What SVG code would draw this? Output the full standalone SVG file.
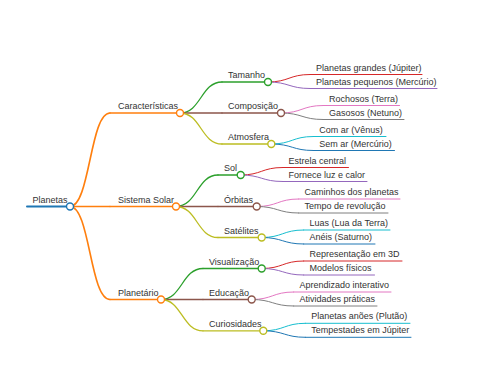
<svg xmlns="http://www.w3.org/2000/svg" width="480" height="384" viewBox="0 0 480 384">
<style>
text{font-family:"Liberation Sans",Arial,sans-serif;font-size:9px;fill:#333}
.l{fill:none;stroke-linecap:round}
.c{fill:#fff;stroke-width:1.4}
.d0{stroke-width:2}
.d1{stroke-width:1.6}
.d2{stroke-width:1.3}
.d3{stroke-width:1}
</style>
<rect width="480" height="384" fill="#fff"/>
<g id="connectors" class="l">
<path class="d1" stroke="#ff7f0e" d="M70,206.5 C90,206.5 90,113 110,113"/>
<path class="d1" stroke="#ff7f0e" d="M70,206.5 L110,206.5"/>
<path class="d1" stroke="#ff7f0e" d="M70,206.5 C90,206.5 90,299.5 110,299.5"/>
<path class="d2" stroke="#2ca02c" d="M180,113 C201,113 201,82 222,82"/>
<path class="d2" stroke="#8c564b" d="M180,113 L222,113"/>
<path class="d2" stroke="#bcbd22" d="M180,113 C201,113 201,144 222,144"/>
<path class="d2" stroke="#2ca02c" d="M176,206.5 C197,206.5 197,175 218,175"/>
<path class="d2" stroke="#8c564b" d="M176,206.5 L218,206.5"/>
<path class="d2" stroke="#bcbd22" d="M176,206.5 C197,206.5 197,237.5 218,237.5"/>
<path class="d2" stroke="#2ca02c" d="M161,299.5 C182,299.5 182,268.5 203,268.5"/>
<path class="d2" stroke="#8c564b" d="M161,299.5 L203,299.5"/>
<path class="d2" stroke="#bcbd22" d="M161,299.5 C182,299.5 182,330.8 203,330.8"/>
<path class="d3" stroke="#d62728" d="M268,82 C289,82 289,74.5 310,74.5"/>
<path class="d3" stroke="#9467bd" d="M268,82 C289,82 289,88.5 310,88.5"/>
<path class="d3" stroke="#e377c2" d="M281,113 C302,113 302,105.5 323,105.5"/>
<path class="d3" stroke="#7f7f7f" d="M281,113 C302,113 302,119.5 323,119.5"/>
<path class="d3" stroke="#17becf" d="M271.3,144 C292.3,144 292.3,136.5 313.3,136.5"/>
<path class="d3" stroke="#1f77b4" d="M271.3,144 C292.3,144 292.3,150.5 313.3,150.5"/>
<path class="d3" stroke="#d62728" d="M240.7,175 C261.7,175 261.7,167.5 282.7,167.5"/>
<path class="d3" stroke="#9467bd" d="M240.7,175 C261.7,175 261.7,181.5 282.7,181.5"/>
<path class="d3" stroke="#e377c2" d="M256.7,206.5 C277.7,206.5 277.7,199 298.7,199"/>
<path class="d3" stroke="#7f7f7f" d="M256.7,206.5 C277.7,206.5 277.7,213 298.7,213"/>
<path class="d3" stroke="#17becf" d="M261.7,237.5 C282.7,237.5 282.7,230 303.7,230"/>
<path class="d3" stroke="#1f77b4" d="M261.7,237.5 C282.7,237.5 282.7,244 303.7,244"/>
<path class="d3" stroke="#d62728" d="M261.7,268.5 C282.7,268.5 282.7,261 303.7,261"/>
<path class="d3" stroke="#9467bd" d="M261.7,268.5 C282.7,268.5 282.7,275 303.7,275"/>
<path class="d3" stroke="#e377c2" d="M251.7,299.5 C272.7,299.5 272.7,292 293.7,292"/>
<path class="d3" stroke="#7f7f7f" d="M251.7,299.5 C272.7,299.5 272.7,306 293.7,306"/>
<path class="d3" stroke="#17becf" d="M263.3,330.8 C284.3,330.8 284.3,323.3 305.3,323.3"/>
<path class="d3" stroke="#1f77b4" d="M263.3,330.8 C284.3,330.8 284.3,337.3 305.3,337.3"/>
</g>
<g id="n-planetas"><path class="l d0" stroke="#1f77b4" d="M27,206.5H70"/><text x="32.5" y="202.5">Planetas</text><circle class="c" stroke="#1f77b4" cx="70" cy="206.5" r="3.5"/></g>
<g id="n-caracteristicas"><path class="l d1" stroke="#ff7f0e" d="M110,113H180"/><text x="118" y="109">Características</text><circle class="c" stroke="#ff7f0e" cx="180" cy="113" r="3.5"/></g>
<g id="n-sistema-solar"><path class="l d1" stroke="#ff7f0e" d="M110,206.5H176"/><text x="118" y="202.5">Sistema Solar</text><circle class="c" stroke="#ff7f0e" cx="176" cy="206.5" r="3.5"/></g>
<g id="n-planetario"><path class="l d1" stroke="#ff7f0e" d="M110,299.5H161"/><text x="118" y="295.5">Planetário</text><circle class="c" stroke="#ff7f0e" cx="161" cy="299.5" r="3.5"/></g>
<g id="n-tamanho"><path class="l d2" stroke="#2ca02c" d="M222,82H268"/><text x="228" y="78">Tamanho</text><circle class="c" stroke="#2ca02c" cx="268" cy="82" r="3.5"/></g>
<g id="n-composicao"><path class="l d2" stroke="#8c564b" d="M222,113H281"/><text x="228" y="109">Composição</text><circle class="c" stroke="#8c564b" cx="281" cy="113" r="3.5"/></g>
<g id="n-atmosfera"><path class="l d2" stroke="#bcbd22" d="M222,144H271.3"/><text x="228" y="140">Atmosfera</text><circle class="c" stroke="#bcbd22" cx="271.3" cy="144" r="3.5"/></g>
<g id="n-sol"><path class="l d2" stroke="#2ca02c" d="M218,175H240.7"/><text x="224" y="171">Sol</text><circle class="c" stroke="#2ca02c" cx="240.7" cy="175" r="3.5"/></g>
<g id="n-orbitas"><path class="l d2" stroke="#8c564b" d="M218,206.5H256.7"/><text x="224" y="202.5">Órbitas</text><circle class="c" stroke="#8c564b" cx="256.7" cy="206.5" r="3.5"/></g>
<g id="n-satelites"><path class="l d2" stroke="#bcbd22" d="M218,237.5H261.7"/><text x="224" y="233.5">Satélites</text><circle class="c" stroke="#bcbd22" cx="261.7" cy="237.5" r="3.5"/></g>
<g id="n-visualizacao"><path class="l d2" stroke="#2ca02c" d="M203,268.5H261.7"/><text x="209" y="264.5">Visualização</text><circle class="c" stroke="#2ca02c" cx="261.7" cy="268.5" r="3.5"/></g>
<g id="n-educacao"><path class="l d2" stroke="#8c564b" d="M203,299.5H251.7"/><text x="209" y="295.5">Educação</text><circle class="c" stroke="#8c564b" cx="251.7" cy="299.5" r="3.5"/></g>
<g id="n-curiosidades"><path class="l d2" stroke="#bcbd22" d="M203,330.8H263.3"/><text x="209" y="326.8">Curiosidades</text><circle class="c" stroke="#bcbd22" cx="263.3" cy="330.8" r="3.5"/></g>
<g id="n-grandes"><path class="l d3" stroke="#d62728" d="M310,74.5H422"/><text x="316" y="70.5">Planetas grandes (Júpiter)</text></g>
<g id="n-pequenos"><path class="l d3" stroke="#9467bd" d="M310,88.5H437"/><text x="316" y="84.5">Planetas pequenos (Mercúrio)</text></g>
<g id="n-rochosos"><path class="l d3" stroke="#e377c2" d="M323,105.5H399.5"/><text x="329" y="101.5">Rochosos (Terra)</text></g>
<g id="n-gasosos"><path class="l d3" stroke="#7f7f7f" d="M323,119.5H404"/><text x="329" y="115.5">Gasosos (Netuno)</text></g>
<g id="n-comar"><path class="l d3" stroke="#17becf" d="M313.3,136.5H386"/><text x="319.3" y="132.5">Com ar (Vênus)</text></g>
<g id="n-semar"><path class="l d3" stroke="#1f77b4" d="M313.3,150.5H394.5"/><text x="319.3" y="146.5">Sem ar (Mercúrio)</text></g>
<g id="n-estrela"><path class="l d3" stroke="#d62728" d="M282.7,167.5H348.5"/><text x="288.5" y="163.5">Estrela central</text></g>
<g id="n-fornece"><path class="l d3" stroke="#9467bd" d="M282.7,181.5H367"/><text x="288.5" y="177.5">Fornece luz e calor</text></g>
<g id="n-caminhos"><path class="l d3" stroke="#e377c2" d="M298.7,199H400"/><text x="304.5" y="195">Caminhos dos planetas</text></g>
<g id="n-tempo"><path class="l d3" stroke="#7f7f7f" d="M298.7,213H388"/><text x="304.5" y="209">Tempo de revolução</text></g>
<g id="n-luas"><path class="l d3" stroke="#17becf" d="M303.7,230H390"/><text x="309.5" y="226">Luas (Lua da Terra)</text></g>
<g id="n-aneis"><path class="l d3" stroke="#1f77b4" d="M303.7,244H375"/><text x="309.5" y="240">Anéis (Saturno)</text></g>
<g id="n-representacao"><path class="l d3" stroke="#d62728" d="M303.7,261H402"/><text x="309.5" y="257">Representação em 3D</text></g>
<g id="n-modelos"><path class="l d3" stroke="#9467bd" d="M303.7,275H374.5"/><text x="309.5" y="271">Modelos físicos</text></g>
<g id="n-aprendizado"><path class="l d3" stroke="#e377c2" d="M293.7,292H391"/><text x="299.5" y="288">Aprendizado interativo</text></g>
<g id="n-atividades"><path class="l d3" stroke="#7f7f7f" d="M293.7,306H377"/><text x="299.5" y="302">Atividades práticas</text></g>
<g id="n-anoes"><path class="l d3" stroke="#17becf" d="M305.3,323.3H410"/><text x="311.3" y="319.3">Planetas anões (Plutão)</text></g>
<g id="n-tempestades"><path class="l d3" stroke="#1f77b4" d="M305.3,337.3H411"/><text x="311.3" y="333.3">Tempestades em Júpiter</text></g>
</svg>
